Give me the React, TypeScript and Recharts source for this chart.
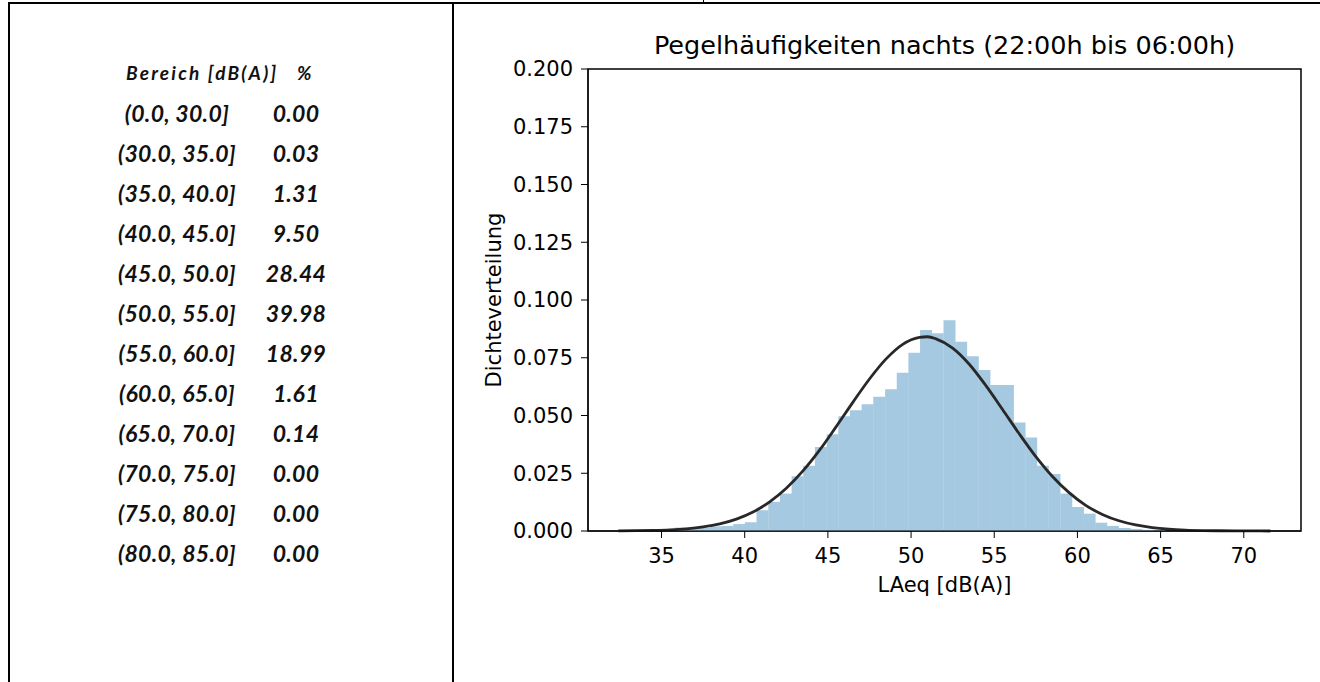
import React from 'react'
import { ComposedChart, Bar, Line, XAxis, YAxis, ReferenceArea } from 'recharts'

// histogram bins (centres, dB) and their density
const binCenters = [
  34.75, 35.45, 36.15, 36.85, 37.55, 38.26, 38.96, 39.66, 40.36, 41.06,
  41.77, 42.47, 43.17, 43.87, 44.57, 45.28, 45.98, 46.68, 47.38, 48.08,
  48.79, 49.49, 50.19, 50.89, 51.59, 52.3, 53.0, 53.7, 54.4, 55.1,
  55.81, 56.51, 57.21, 57.91, 58.61, 59.32, 60.02, 60.72, 61.42, 62.12,
  62.83, 63.53, 64.23, 64.93
]
const density = [
  0.0001, 0.0003, 0.0015, 0.0015, 0.0013, 0.002, 0.0022, 0.003, 0.0038, 0.009,
  0.0126, 0.0162, 0.0237, 0.0282, 0.0364, 0.0419, 0.0497, 0.0523, 0.0549, 0.0581,
  0.0614, 0.0685, 0.0772, 0.087, 0.0856, 0.0912, 0.0819, 0.0757, 0.0697, 0.0632,
  0.0632, 0.047, 0.0405, 0.0282, 0.0247, 0.0162, 0.0104, 0.0075, 0.0036, 0.0022,
  0.0013, 0.0009, 0.0005, 0.0003
]

// fitted normal curve
const fitX = [
  32.4, 33.5, 34.5, 35.5, 36.5, 37.5, 38.5, 39.5, 40.5, 41.5,
  42.5, 43.5, 44.5, 45.5, 46.5, 47.5, 48.5, 49.5, 50.5, 51.0, 51.5,
  52.5, 53.5, 54.5, 55.5, 56.5, 57.5, 58.5, 59.5, 60.5, 61.5,
  62.5, 63.5, 64.5, 65.5, 66.5, 67.5, 68.5, 69.5, 70.5, 71.6
]
const fitY = [
  0.00005, 0.00012, 0.00025, 0.0005, 0.00096, 0.00176, 0.00306, 0.00512, 0.0082, 0.0126,
  0.0185, 0.026, 0.035, 0.0452, 0.0557, 0.0658, 0.0745, 0.0808, 0.0838, 0.0841, 0.0832,
  0.0792, 0.0722, 0.0629, 0.0526, 0.0421, 0.0322, 0.0236, 0.0166, 0.0111, 0.00717,
  0.00442, 0.00261, 0.00148, 0.0008, 0.00041, 0.0002, 0.0001, 0.00004, 0.00002, 0.00001
]

const xTicks = [35, 40, 45, 50, 55, 60, 65, 70]
const yTicks = [0, 0.025, 0.05, 0.075, 0.1, 0.125, 0.15, 0.175, 0.2]
const xDomain = [30.58, 73.44]

const ranges = [
  '(0.0, 30.0]', '(30.0, 35.0]', '(35.0, 40.0]', '(40.0, 45.0]', '(45.0, 50.0]', '(50.0, 55.0]',
  '(55.0, 60.0]', '(60.0, 65.0]', '(65.0, 70.0]', '(70.0, 75.0]', '(75.0, 80.0]', '(80.0, 85.0]'
]
const percents = ['0.00', '0.03', '1.31', '9.50', '28.44', '39.98', '18.99', '1.61', '0.14', '0.00', '0.00', '0.00']

const binData = binCenters.map((x, i) => ({ x, d: density[i] }))
const fitData = fitX.map((x, i) => ({ x, f: fitY[i] }))

const tableFont = 'Lato, "Open Sans", sans-serif'
const chartFont = '"DejaVu Sans", sans-serif'

const cellText = {
  position: 'absolute' as const,
  textAlign: 'center' as const,
  fontFamily: tableFont,
  fontStyle: 'italic',
  fontWeight: 700,
  fontSize: 23,
  letterSpacing: 0.3,
  lineHeight: '30px',
  color: '#111',
  whiteSpace: 'nowrap' as const
}

export default function App() {
  return (
    <div style={{
      position: 'fixed', left: 0, top: 0, width: 1320, height: 682,
      background: '#fff', overflow: 'hidden'
    }}>
      {/* table borders */}
      <div style={{ position: 'absolute', left: 8, top: 2, width: 1312, height: 2, background: '#000' }} />
      <div style={{ position: 'absolute', left: 8, top: 2, width: 2, height: 680, background: '#000' }} />
      <div style={{ position: 'absolute', left: 452, top: 2, width: 2, height: 680, background: '#000' }} />
      <div style={{ position: 'absolute', left: 703, top: 0, width: 1, height: 3, background: '#000' }} />

      {/* range table */}
      <div style={{ ...cellText, left: 126, top: 58, fontSize: 19, letterSpacing: 2.2, textAlign: 'left' }}>
        Bereich [dB(A)]
      </div>
      <div style={{ ...cellText, left: 297, top: 58, fontSize: 19, textAlign: 'left' }}>
        %
      </div>
      {ranges.map((r, i) => (
        <React.Fragment key={r}>
          <div style={{ ...cellText, left: 97, width: 160, top: 98 + i * 40 }}>{r}</div>
          <div style={{ ...cellText, left: 246, width: 100, top: 98 + i * 40 }}>{percents[i]}</div>
        </React.Fragment>
      ))}

      {/* chart */}
      <div style={{
        position: 'absolute', left: 588, width: 713, top: 30, textAlign: 'center',
        fontFamily: chartFont, fontSize: 25.5, lineHeight: '30px', color: '#000', whiteSpace: 'nowrap'
      }}>
        Pegelhäufigkeiten nachts (22:00h bis 06:00h)
      </div>
      <div style={{
        position: 'absolute', left: 588, width: 713, top: 571, textAlign: 'center',
        fontFamily: chartFont, fontSize: 21, lineHeight: '28px', color: '#000'
      }}>
        LAeq [dB(A)]
      </div>
      <div style={{
        position: 'absolute', left: 494 - 150, top: 300 - 14, width: 300, textAlign: 'center',
        transform: 'rotate(-90deg)', fontFamily: chartFont, fontSize: 21, lineHeight: '28px', color: '#000'
      }}>
        Dichteverteilung
      </div>

      <div style={{ position: 'absolute', left: 460, top: 0 }}>
        <ComposedChart
          width={860}
          height={682}
          data={binData}
          margin={{ top: 69, right: 19, bottom: 91, left: 0 }}
          barCategoryGap={0}
          barGap={0}
          style={{ fontFamily: chartFont }}
        >
          <XAxis
            dataKey="x"
            type="number"
            domain={xDomain}
            allowDataOverflow
            ticks={xTicks}
            height={60}
            stroke="#000"
            tickSize={7}
            tickMargin={10}
            tick={{ fill: '#000', fontSize: 21 }}
            interval={0}
          />
          <XAxis xAxisId="fit" dataKey="x" type="number" domain={xDomain} allowDataOverflow hide />
          <YAxis
            type="number"
            domain={[0, 0.2]}
            ticks={yTicks}
            width={128}
            stroke="#000"
            tickSize={7}
            tickMargin={8}
            tick={{ fill: '#000', fontSize: 21 }}
            tickFormatter={(v: number) => v.toFixed(3)}
            interval={0}
          />
          <Bar dataKey="d" fill="#a5c9e1" isAnimationActive={false} />
          <Line
            xAxisId="fit"
            data={fitData}
            dataKey="f"
            type="monotone"
            stroke="#282828"
            strokeWidth={2.8}
            dot={false}
            isAnimationActive={false}
          />
          <ReferenceArea
            x1={xDomain[0]}
            x2={xDomain[1]}
            y1={0}
            y2={0.2}
            fill="none"
            stroke="#000"
            strokeWidth={1.5}
            ifOverflow="visible"
          />
        </ComposedChart>
      </div>
    </div>
  )
}
